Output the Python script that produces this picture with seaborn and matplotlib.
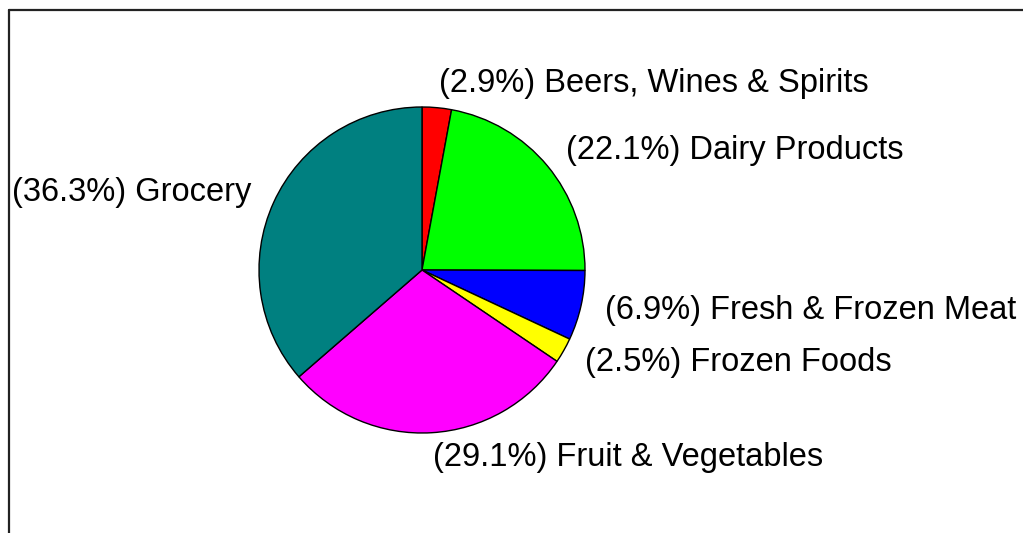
import matplotlib
matplotlib.use("Agg")
import matplotlib.pyplot as plt
from matplotlib.lines import Line2D
import seaborn as sns

# ---------------- data ----------------
categories = ["Beers, Wines & Spirits", "Dairy Products", "Fresh & Frozen Meat",
              "Frozen Foods", "Fruit & Vegetables", "Grocery"]
shares = [2.9, 22.1, 6.9, 2.5, 29.1, 36.3]
colors = ["#FF0000", "#00FF00", "#0000FF", "#FFFF00", "#FF00FF", "#008080"]

labels = ["(%.1f%%) %s" % (v, c) for v, c in zip(shares, categories)]

# ---------------- plot ----------------
sns.set_theme(style="white")
plt.rcParams["font.family"] = ["Liberation Sans", "DejaVu Sans"]

W, H = 1023, 533
fig = plt.figure(figsize=(W / 100, H / 100), dpi=100)
ax = fig.add_axes([0, 0, 1, 1])

ax.pie(shares, labels=labels, colors=colors, startangle=90, counterclock=False,
       labeldistance=1.15, radius=1.0,
       wedgeprops=dict(edgecolor="black", linewidth=1.0),
       textprops=dict(fontsize=23.5, color="black"))

# pie centre ~ (422, 270) px, radius ~163 px
r_px, cx, cy = 163.0, 422.0, 270.0
ax.set_xlim(-cx / r_px, (W - cx) / r_px)
ax.set_ylim(-(H - cy) / r_px, cy / r_px)
ax.set_aspect("auto")
ax.axis("off")

# partial frame (top and left edges)
fig.add_artist(Line2D([9 / W, 9 / W], [0, 1 - 10 / H], color="#222222", lw=1.6))
fig.add_artist(Line2D([9 / W, 1], [1 - 10 / H, 1 - 10 / H], color="#222222", lw=1.6))

fig.savefig("out.png", dpi=100, facecolor="white")
